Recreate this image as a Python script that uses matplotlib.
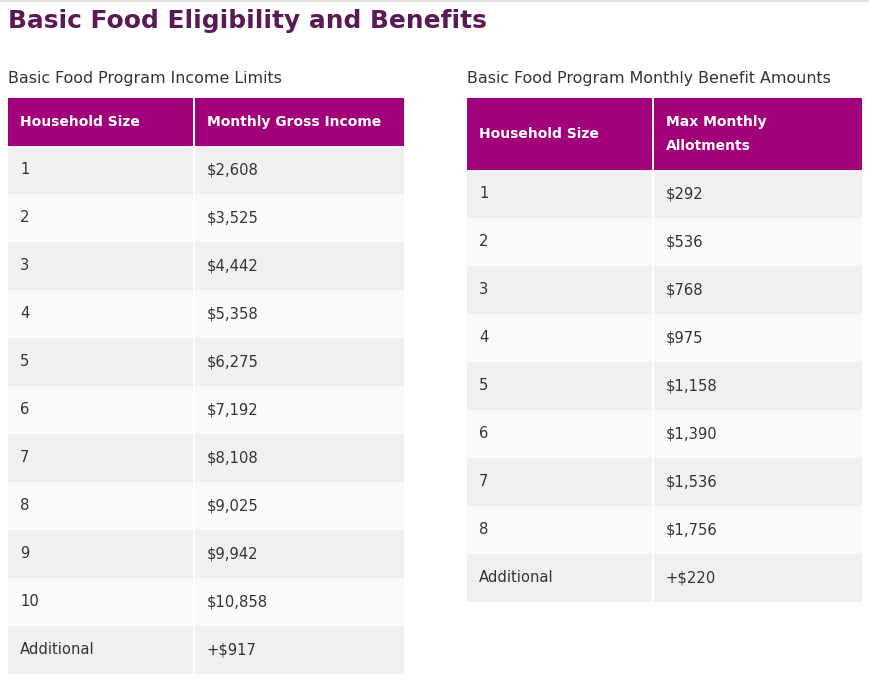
import matplotlib.pyplot as plt
from matplotlib.patches import Rectangle

# table data
income_sizes = ['1', '2', '3', '4', '5', '6', '7', '8', '9', '10', 'Additional']
income_limits = ['$2,608', '$3,525', '$4,442', '$5,358', '$6,275', '$7,192',
                 '$8,108', '$9,025', '$9,942', '$10,858', '+$917']
income_header = ['Household Size', 'Monthly Gross Income']

benefit_sizes = ['1', '2', '3', '4', '5', '6', '7', '8', 'Additional']
benefit_amounts = ['$292', '$536', '$768', '$975', '$1,158', '$1,390',
                   '$1,536', '$1,756', '+$220']
benefit_header = ['Household Size', 'Max Monthly\nAllotments']

title = 'Basic Food Eligibility and Benefits'
sub_left = 'Basic Food Program Income Limits'
sub_right = 'Basic Food Program Monthly Benefit Amounts'

HEAD = '#a1007a'
ROW_A = '#f0f0f0'
ROW_B = '#fafafa'
TXT = '#333333'

W, H = 870, 682
fig = plt.figure(figsize=(W / 100, H / 100), dpi=100)
ax = fig.add_axes([0, 0, 1, 1])
ax.set_xlim(0, W)
ax.set_ylim(H, 0)
ax.axis('off')


def draw_table(x0, x1, xmid, top, head_h, header, col1, col2, row_h=48):
    # header cells
    ax.add_patch(Rectangle((x0, top), xmid - x0 - 1, head_h, color=HEAD, lw=0))
    ax.add_patch(Rectangle((xmid + 1, top), x1 - xmid - 1, head_h, color=HEAD, lw=0))
    ax.text(x0 + 12, top + head_h / 2, header[0], color='white', fontsize=10,
            fontweight='semibold', va='center', ha='left', linespacing=1.9)
    ax.text(xmid + 13, top + head_h / 2, header[1], color='white', fontsize=10,
            fontweight='semibold', va='center', ha='left', linespacing=1.9)
    y = top + head_h
    for i, (a, b) in enumerate(zip(col1, col2)):
        c = ROW_A if i % 2 == 0 else ROW_B
        ax.add_patch(Rectangle((x0, y), xmid - x0 - 1, row_h, color=c, lw=0))
        ax.add_patch(Rectangle((xmid + 1, y), x1 - xmid - 1, row_h, color=c, lw=0))
        ax.text(x0 + 12, y + row_h / 2, a, color=TXT, fontsize=10.6, va='center', ha='left')
        ax.text(xmid + 13, y + row_h / 2, b, color=TXT, fontsize=10.6, va='center', ha='left')
        y += row_h


# top rule
ax.plot([0, W], [0.8, 0.8], color='#dddddd', lw=1.2)

ax.text(8, 21, title, color='#5a1a55', fontsize=17.9, fontweight='bold',
        va='center', ha='left')
ax.text(8, 79, sub_left, color=TXT, fontsize=11.4, fontweight='medium',
        va='center', ha='left')
ax.text(467, 79, sub_right, color=TXT, fontsize=11.4, fontweight='medium',
        va='center', ha='left')

draw_table(8, 404, 194, 98, 48, income_header, income_sizes, income_limits)
draw_table(467, 862, 653, 98, 72, benefit_header, benefit_sizes, benefit_amounts)

fig.savefig('out.png', dpi=100, facecolor='white')
